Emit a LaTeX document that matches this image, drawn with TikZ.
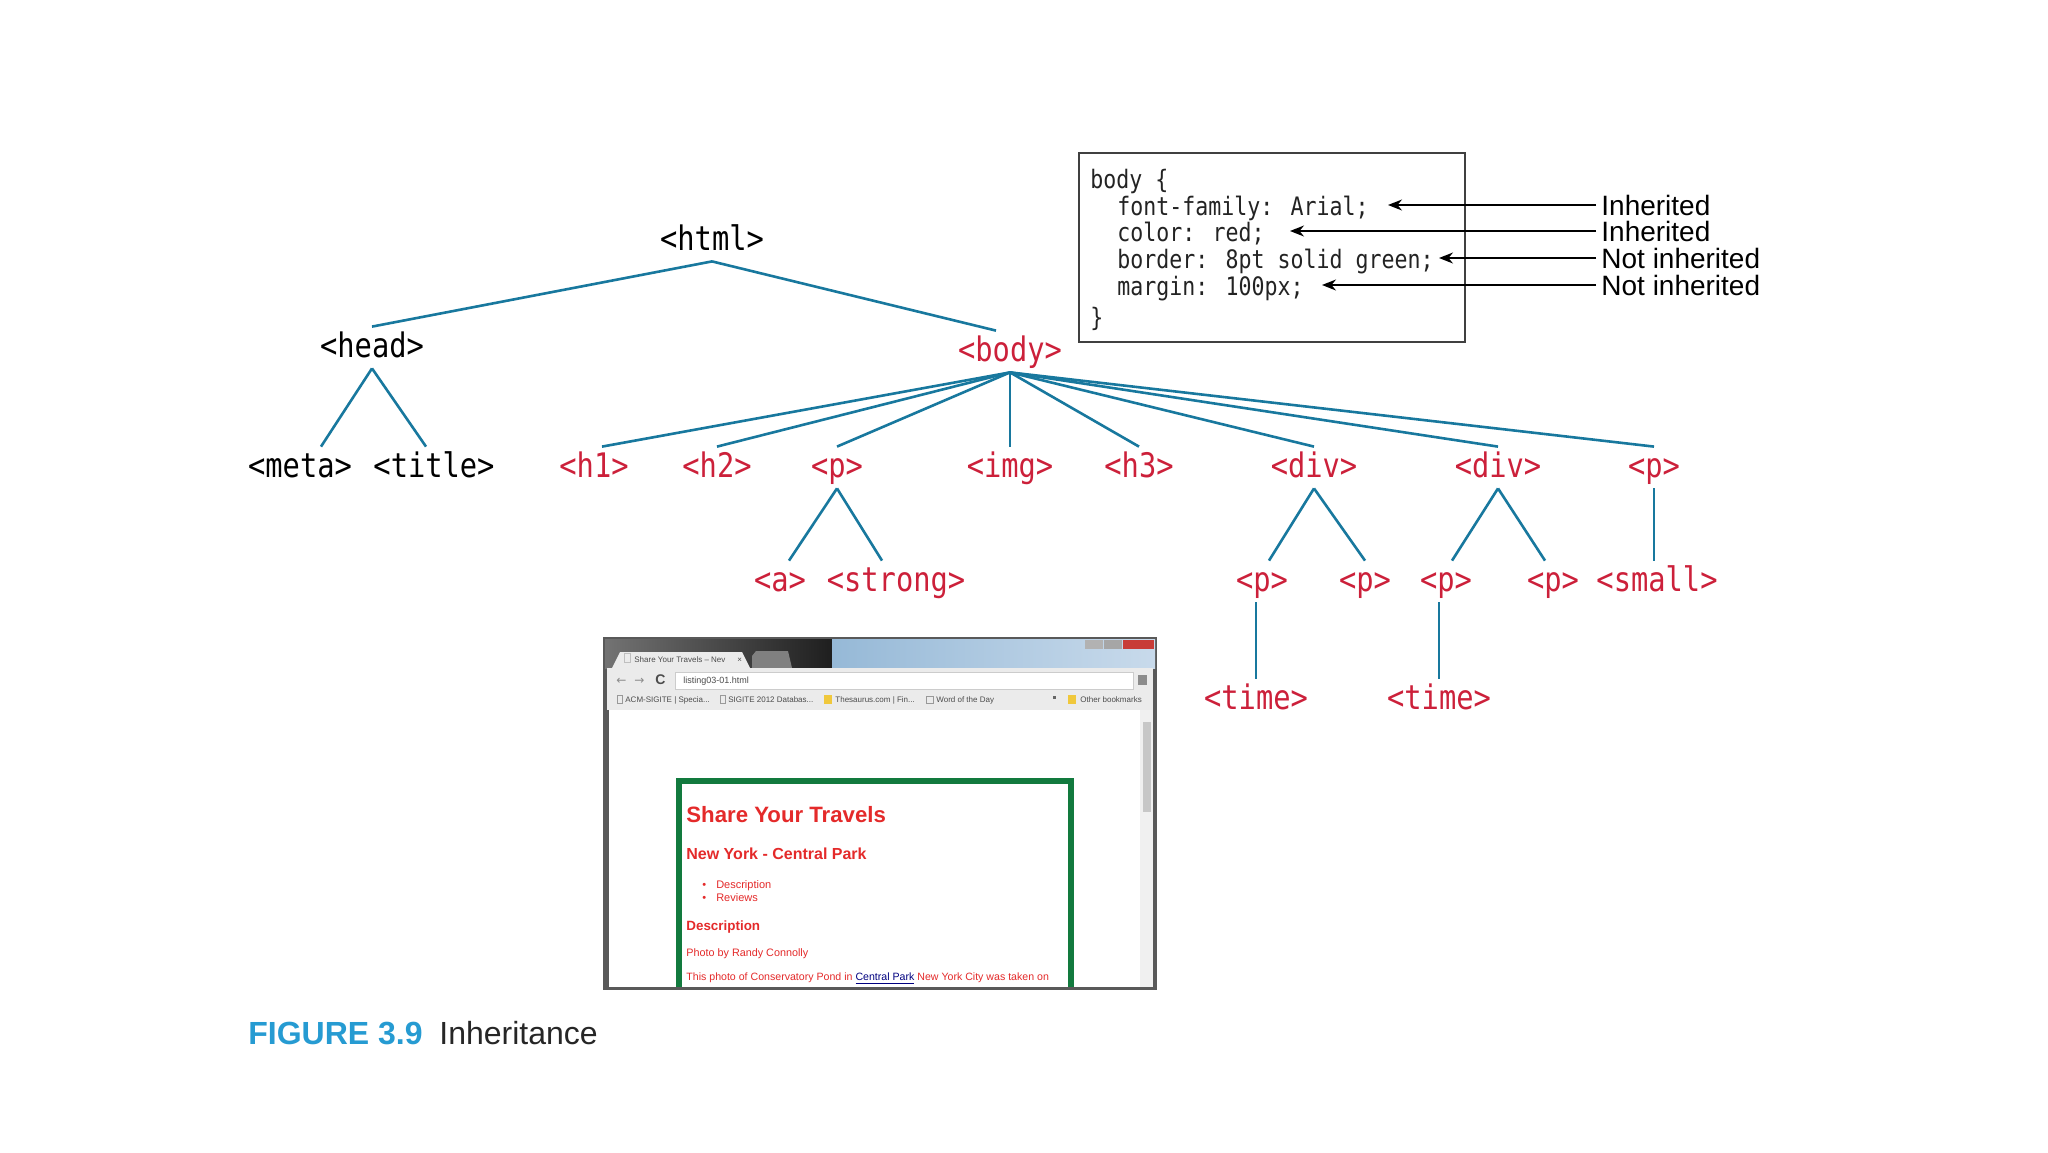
\documentclass[tikz,border=0pt]{standalone}
\usepackage{fontspec}
\usetikzlibrary{arrows.meta}
\setmainfont{Liberation Sans}
\newfontfamily\monofnt[FakeStretch=0.85]{DejaVu Sans Mono}
\newfontfamily\sansfnt{Liberation Sans}
\newfontfamily\symfnt{DejaVu Sans}
\definecolor{treered}{RGB}{204,32,58}
\definecolor{treeline}{RGB}{24,120,158}
\definecolor{capblue}{RGB}{38,155,210}
\definecolor{boxgreen}{RGB}{18,122,62}
\definecolor{pagered}{RGB}{228,42,42}
\definecolor{codeink}{RGB}{35,35,35}
\definecolor{skyA}{RGB}{150,185,215}
\definecolor{skyB}{RGB}{200,218,235}
\definecolor{closered}{RGB}{200,60,55}
\definecolor{folder}{RGB}{240,200,60}
\tikzset{
  tnode/.style={font=\fontsize{16.9}{18}\monofnt, text height=13pt, text depth=3.5pt, inner xsep=0pt, inner ysep=2pt, anchor=base},
  tblack/.style={tnode, text=black},
  tred/.style={tnode, text=treered},
  tline/.style={draw=treeline, line width=1.3pt},
  codeline/.style={font=\fontsize{12.7}{15}\monofnt, text=codeink, text height=10pt, text depth=0pt, inner xsep=0pt, inner ysep=0pt, anchor=base west},
  lab/.style={font=\fontsize{14}{16}\sansfnt, text=black, text height=10pt, text depth=0pt, inner xsep=2.5pt, inner ysep=0pt, anchor=base west},
  arr/.style={draw=black, line width=0.8pt, -{Stealth[length=7pt,width=5.5pt]}},
  pagetxt/.style={text=pagered, inner sep=0pt, anchor=base west},
  chrome/.style={text=black!70, inner sep=0pt, anchor=base west, font=\fontsize{4}{5}\sansfnt},
}
\begin{document}
\begin{tikzpicture}[x=0.5pt,y=-0.5pt]
\useasboundingbox (0,0) rectangle (2048,1152);
\fill[white] (0,0) rectangle (2048,1152);

% ---------------- tree ----------------
\node[tblack] (html)  at (712,250) {<html>};
\node[tblack] (head)  at (372,357) {<head>};
\node[tred]   (body)  at (1010,361) {<body>};
\node[tblack] (meta)  at (300,477) {<meta>};
\node[tblack] (title) at (434,477) {<title>};
\node[tred] (h1)   at (594,477) {<h1>};
\node[tred] (h2)   at (717,477) {<h2>};
\node[tred] (p1)   at (837,477) {<p>};
\node[tred] (img)  at (1010,477) {<img>};
\node[tred] (h3)   at (1139,477) {<h3>};
\node[tred] (div1) at (1314,477) {<div>};
\node[tred] (div2) at (1498,477) {<div>};
\node[tred] (p2)   at (1654,477) {<p>};
\node[tred] (a)      at (780,591) {<a>};
\node[tred] (strong) at (896,591) {<strong>};
\node[tred] (pA) at (1262,591) {<p>};
\node[tred] (pB) at (1365,591) {<p>};
\node[tred] (pC) at (1446,591) {<p>};
\node[tred] (pD) at (1553,591) {<p>};
\node[tred] (small) at (1657,591) {<small>};
\node[tred] (time1) at (1256,709) {<time>};
\node[tred] (time2) at (1439,709) {<time>};

\draw[tline] (html.south) -- (head.north);
\draw[tline] (html.south) -- ([xshift=-7pt]body.north);
\draw[tline] (head.south) -- ([xshift=10.5pt]meta.north);
\draw[tline] (head.south) -- ([xshift=-4pt]title.north);
\draw[tline] (body.south) -- ([xshift=4pt]h1.north);
\draw[tline] (body.south) -- (h2.north);
\draw[tline] (body.south) -- (p1.north);
\draw[tline] (body.south) -- (img.north);
\draw[tline] (body.south) -- (h3.north);
\draw[tline] (body.south) -- (div1.north);
\draw[tline] (body.south) -- (div2.north);
\draw[tline] (body.south) -- (p2.north);
\draw[tline] (p1.south) -- ([xshift=4.5pt]a.north);
\draw[tline] (p1.south) -- ([xshift=-7pt]strong.north);
\draw[tline] (div1.south) -- ([xshift=3.5pt]pA.north);
\draw[tline] (div1.south) -- (pB.north);
\draw[tline] (div2.south) -- ([xshift=3pt]pC.north);
\draw[tline] (div2.south) -- ([xshift=-4pt]pD.north);
\draw[tline] (p2.south) -- (p2.south |- small.north);
\draw[tline] (time1.north |- pA.south) -- (time1.north);
\draw[tline] (time2.north |- pC.south) -- (time2.north);

% ---------------- CSS box ----------------
\draw[draw=black!75, line width=1pt] (1079,153) rectangle (1465,342);
\node[codeline] (c0) at (1090,188) {body \{};
\node[codeline] (c1) at (1117,215) {font-family: Arial;};
\node[codeline] (c2) at (1117,241) {color: red;};
\node[codeline] (c3) at (1117,268) {border: 8pt solid green;};
\node[codeline] (c4) at (1117,295) {margin: 100px;};
\node[codeline] (c5) at (1090,326) {\}};

\node[lab] (l1) at (1596,215) {Inherited};
\node[lab] (l2) at (1596,241) {Inherited};
\node[lab] (l3) at (1596,268) {Not inherited};
\node[lab] (l4) at (1596,295) {Not inherited};
\coordinate (t1) at (1388,0);
\coordinate (t2) at (1290,0);
\coordinate (t3) at (1439,0);
\coordinate (t4) at (1322,0);
\draw[arr] (l1.west) -- (l1.west -| t1);
\draw[arr] (l2.west) -- (l2.west -| t2);
\draw[arr] (l3.west) -- (l3.west -| t3);
\draw[arr] (l4.west) -- (l4.west -| t4);

% ---------------- browser screenshot ----------------
\fill[black!65] (603,637) rectangle (1157,990);
\shade[left color=black!55, right color=black!88] (605,639) rectangle (832,668);
\shade[left color=skyA, right color=skyB] (832,639) rectangle (1155,668);
% window buttons
\fill[black!30] (1085,640) rectangle (1103,649);
\fill[black!35] (1104,640) rectangle (1122,649);
\fill[closered] (1123,640) rectangle (1154,649);
% new tab stub
\fill[black!50] (752,656) -- (756,651) -- (788,651) -- (792,668) -- (752,668) -- cycle;
% toolbar
\fill[black!8] (607,668) rectangle (1153,710);
\fill[black!8] (612,668) -- (620,652) -- (742,652) -- (750,668) -- cycle;
\draw[black!25, line width=0.3pt] (624,653) rectangle (630,662);
\node[chrome] at (634,662) {Share Your Travels – Nev\hspace{6pt}×};
% address bar
\fill[white] (675,672) rectangle (1133,689);
\draw[black!20, line width=0.3pt] (675,672) rectangle (1133,689);
\node[chrome, text=black!45] at (616,684) {\symfnt\fontsize{6}{6}\selectfont ←\hspace{4pt}→};
\node[chrome, text=black!70] at (655,684) {\fontsize{7}{7}\selectfont\bfseries C};
\node[chrome] at (683,683) {\fontsize{4.5}{5}\selectfont listing03-01.html};
\fill[black!45] (1138,675) rectangle (1147,685);
% bookmarks
\draw[black!40, line width=0.3pt] (617,695) rectangle (622,703);
\node[chrome] at (625,702) {ACM-SIGITE | Specia...};
\draw[black!40, line width=0.3pt] (720,695) rectangle (725,703);
\node[chrome] at (728,702) {SIGITE 2012 Databas...};
\fill[folder] (824,695) rectangle (832,704);
\node[chrome] at (835,702) {Thesaurus.com | Fin...};
\draw[black!40, line width=0.3pt] (926,696) rectangle (933,703);
\node[chrome] at (936,702) {Word of the Day};
\fill[black!60] (1053,696) rectangle (1056,699);
\fill[folder] (1068,695) rectangle (1076,704);
\node[chrome] at (1080,702) {Other bookmarks};
% page area
\fill[white] (609,710) rectangle (1140,987);
\fill[black!6] (1140,710) rectangle (1153,987);
\fill[black!22] (1143,722) rectangle (1151,812);
% green box
\draw[boxgreen, line width=3pt] (679,987) -- (679,781) -- (1071,781) -- (1071,987);
% page text
\node[pagetxt, font=\fontsize{11.1}{12}\sansfnt\bfseries] at (686,822) {Share Your Travels};
\node[pagetxt, font=\fontsize{8}{9}\sansfnt\bfseries] at (686,859) {New York - Central Park};
\node[pagetxt, font=\fontsize{5.5}{6}\sansfnt] at (702,888) {•\hspace{5pt}Description};
\node[pagetxt, font=\fontsize{5.5}{6}\sansfnt] at (702,901) {•\hspace{5pt}Reviews};
\node[pagetxt, font=\fontsize{6.7}{7}\sansfnt\bfseries] at (686,930) {Description};
\node[pagetxt, font=\fontsize{5.4}{6}\sansfnt] at (686,956) {Photo by Randy Connolly};
\node[pagetxt, font=\fontsize{5.3}{6}\sansfnt] at (686,980) {This photo of Conservatory Pond in \textcolor{blue!50!black}{\underline{Central Park}} New York City was taken on};

% ---------------- caption ----------------
\node[inner sep=0pt, anchor=base west, font=\fontsize{16}{18}\sansfnt\bfseries, text=capblue] (fig) at (248,1044) {FIGURE 3.9};
\node[inner sep=0pt, anchor=base west, font=\fontsize{16}{18}\sansfnt, text=black!85] (cap) at (439,1044) {Inheritance};
\end{tikzpicture}
\end{document}
